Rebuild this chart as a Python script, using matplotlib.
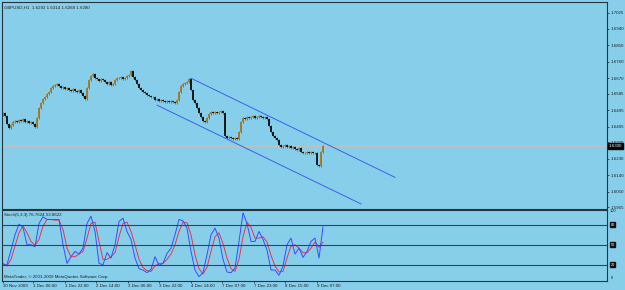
import matplotlib.pyplot as plt
import numpy as np

# GBPUSD H1 closes, one per bar
closes = [1.6478, 1.6462, 1.6418, 1.6396, 1.6412, 1.6429, 1.6434, 1.6429, 1.6440, 1.6434,
          1.6445, 1.6429, 1.6434, 1.6423, 1.6429, 1.6418, 1.6401, 1.6451, 1.6505, 1.6533,
          1.6555, 1.6566, 1.6582, 1.6593, 1.6615, 1.6626, 1.6631, 1.6637, 1.6626, 1.6615,
          1.6620, 1.6609, 1.6615, 1.6604, 1.6598, 1.6609, 1.6598, 1.6593, 1.6604, 1.6587,
          1.6571, 1.6555, 1.6615, 1.6659, 1.6680, 1.6691, 1.6669, 1.6664, 1.6653, 1.6664,
          1.6659, 1.6648, 1.6637, 1.6648, 1.6631, 1.6637, 1.6659, 1.6669, 1.6669, 1.6675,
          1.6664, 1.6669, 1.6680, 1.6686, 1.6708, 1.6675, 1.6659, 1.6637, 1.6615, 1.6604,
          1.6593, 1.6587, 1.6576, 1.6571, 1.6566, 1.6566, 1.6549, 1.6555, 1.6544, 1.6549,
          1.6544, 1.6538, 1.6544, 1.6538, 1.6544, 1.6538, 1.6533, 1.6549, 1.6593, 1.6626,
          1.6637, 1.6642, 1.6648, 1.6664, 1.6604, 1.6549, 1.6533, 1.6505, 1.6478, 1.6456,
          1.6434, 1.6429, 1.6451, 1.6473, 1.6484, 1.6478, 1.6484, 1.6478, 1.6484, 1.6489,
          1.6478, 1.6352, 1.6341, 1.6347, 1.6341, 1.6336, 1.6341, 1.6336, 1.6374, 1.6429,
          1.6451, 1.6445, 1.6456, 1.6451, 1.6456, 1.6462, 1.6451, 1.6456, 1.6462, 1.6456,
          1.6451, 1.6456, 1.6445, 1.6407, 1.6374, 1.6352, 1.6341, 1.6330, 1.6303, 1.6292,
          1.6298, 1.6303, 1.6292, 1.6298, 1.6287, 1.6292, 1.6281, 1.6276, 1.6287, 1.6265,
          1.6259, 1.6259, 1.6265, 1.6259, 1.6265, 1.6259, 1.6259, 1.6194, 1.6188, 1.6265,
          1.6300]
first_open = 1.6470

# stochastic 5,3,3 (every second bar)
stoch_k = [20, 20, 42, 65, 81, 76, 50, 50, 47, 82, 92, 88, 88, 88, 88, 50, 22, 32, 40, 36,
           45, 82, 93, 70, 22, 20, 38, 30, 50, 85, 90, 70, 58, 30, 14, 12, 8, 13, 32, 19,
           22, 37, 45, 65, 88, 86, 75, 40, 12, 2, 8, 35, 65, 75, 60, 28, 9, 8, 15, 55,
           98, 82, 55, 55, 70, 58, 42, 12, 12, 4, 18, 50, 60, 36, 45, 31, 40, 55, 60, 30,
           77]
stoch_d = [22, 18, 28, 48, 68, 78, 68, 55, 49, 58, 78, 88, 88, 87, 87, 73, 45, 32, 32, 36,
           40, 60, 82, 84, 55, 28, 28, 32, 38, 62, 82, 84, 70, 50, 28, 16, 11, 10, 18, 22,
           22, 28, 36, 50, 70, 84, 83, 65, 35, 14, 6, 16, 40, 62, 68, 52, 30, 14, 10, 28,
           62, 84, 76, 60, 60, 62, 54, 34, 18, 9, 10, 30, 48, 50, 45, 38, 38, 45, 54, 46,
           54]

# trend channel anchors (bar, price)
upper_bars = [94, 196]
upper_prices = [1.6669, 1.6128]
lower_bars = [77, 179]
lower_prices = [1.6522, 1.5983]

price_ticks = [1.7025, 1.6940, 1.6850, 1.6760, 1.6670, 1.6585, 1.6495, 1.6405, 1.6320,
               1.6230, 1.6140, 1.6050, 1.5965]
time_labels = ["30 Nov 2009", "1 Dec 06:00", "1 Dec 22:00", "2 Dec 14:00", "3 Dec 06:00",
               "3 Dec 22:00", "4 Dec 14:00", "7 Dec 07:00", "7 Dec 23:00", "8 Dec 15:00",
               "9 Dec 07:00"]
bid = 1.6300

bg = "#87CEEB"
frame = "#2b3438"
fs = 3.2
wick = 0.0006
plt.rcParams['font.family'] = ['Liberation Sans', 'DejaVu Sans']

fig = plt.figure(figsize=(6.25, 2.9), dpi=100, facecolor=bg)
ax = fig.add_axes([2/625, 1-208.5/290, 605/625, 206.5/290], facecolor=bg)
ax2 = fig.add_axes([2/625, 1-281/290, 605/625, 71.5/290], facecolor=bg)

c = np.array(closes)
o = np.r_[first_open, c[:-1]]
idx = np.arange(len(c))
up = c >= o
lo = np.minimum(o, c)
hi = np.maximum(o, c)
ax.vlines(idx, lo - wick, hi + wick, colors="#5a6a70", linewidth=0.6)
ax.vlines(idx, lo, hi, colors=np.where(up, "#a8761f", "#0a0a0a"), linewidth=1.3)

ax.axhline(bid, color="#c4c0c0", linewidth=0.8, zorder=0)
ax.plot(upper_bars, upper_prices, color="#3f5fe8", linewidth=0.7)
ax.plot(lower_bars, lower_prices, color="#3f5fe8", linewidth=0.7)

ax.set_xlim(-0.5, 302)
ax.set_ylim(1.5958, 1.7085)
ax.set_xticks([])
ax.yaxis.tick_right()
ax.set_yticks(price_ticks)
ax.set_yticklabels(["%.4f" % p for p in price_ticks])
ax.tick_params(axis='y', length=1.5, width=0.5, pad=1, labelsize=fs, colors="#202020")
ax.text(1.003, bid, "%.4f" % bid, transform=ax.get_yaxis_transform(), fontsize=fs,
        color="white", va="center", ha="left",
        bbox=dict(boxstyle="square,pad=0.15", fc="black", ec="black"))
ax.text(0.003, 0.975, "GBPUSD,H1  1.6292 1.6314 1.6268 1.6280", transform=ax.transAxes,
        fontsize=fs, color="#202020", va="center", ha="left")

sx = np.arange(len(stoch_k)) * 2
ax2.plot(sx, stoch_d, color="#e8344a", linewidth=0.7)
ax2.plot(sx, stoch_k, color="#3a4cff", linewidth=0.7)
for lvl in [20, 50, 80]:
    ax2.axhline(lvl, color="#36464c", linewidth=0.8)
    ax2.text(1.006, lvl, str(lvl), transform=ax2.get_yaxis_transform(), fontsize=fs - 0.4,
             color="white", va="center", ha="left",
             bbox=dict(boxstyle="square,pad=0.15", fc="#111111", ec="#111111"))
ax2.text(1.004, 100, "100", transform=ax2.get_yaxis_transform(), fontsize=fs - 0.4,
         color="#202020", va="center", ha="left")
ax2.text(1.006, 0, "0", transform=ax2.get_yaxis_transform(), fontsize=fs - 0.4,
         color="#202020", va="center", ha="left")
ax2.set_xlim(-0.5, 302)
ax2.set_ylim(-4.5, 103)
ax2.set_yticks([])
ax2.text(0.003, 0.93, "Stoch(5,3,3) 76.7624 53.8622", transform=ax2.transAxes,
         fontsize=fs, color="#202020", va="center", ha="left")
ax2.text(0.003, 0.05, "MetaTrader, \u00a9 2001-2009 MetaQuotes Software Corp.",
         transform=ax2.transAxes, fontsize=fs, color="#202020", va="center", ha="left")

tick_pos = np.r_[0, np.linspace(15, 157, 10)]
ax2.set_xticks(tick_pos)
ax2.set_xticklabels(time_labels, ha="left")
ax2.tick_params(axis='x', length=1.5, width=0.5, pad=1, labelsize=fs, colors="#202020")

for a in [ax, ax2]:
    for s in a.spines.values():
        s.set_color(frame)
        s.set_linewidth(0.8)

fig.savefig("out.png", dpi=100, facecolor=bg)
